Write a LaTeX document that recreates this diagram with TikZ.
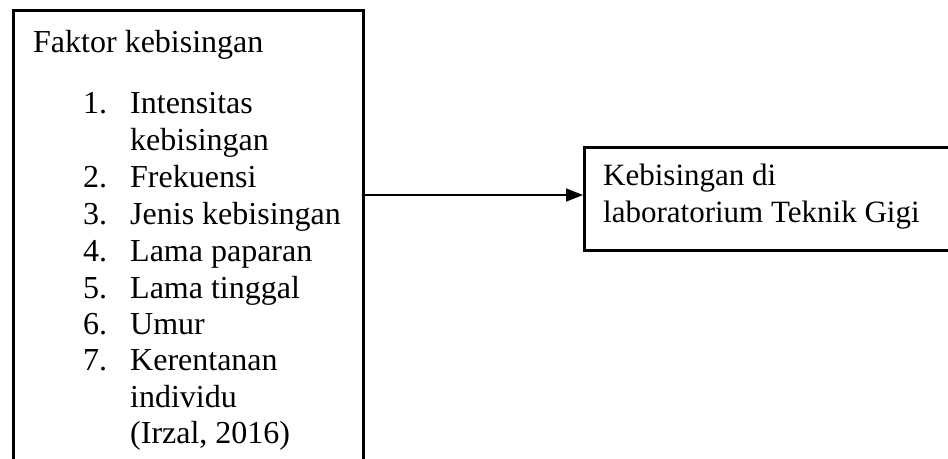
\documentclass[tikz,border=0pt]{standalone}
\usepackage{fontspec}
\setmainfont{Liberation Serif}
\usetikzlibrary{arrows.meta}
\begin{document}
\begin{tikzpicture}[x=1pt,y=-1pt,
  boxstyle/.style={draw=black, line width=2.5pt, fill=white, inner sep=0pt, anchor=north west},
  txt/.style={inner sep=0pt, anchor=base west, font=\fontsize{32}{37}\selectfont},
  rtxt/.style={inner sep=0pt, anchor=base west, font=\fontsize{31}{37}\selectfont},
  conn/.style={line width=1.5pt, -{Triangle[length=17pt,width=13pt]}}]
\useasboundingbox (0,0) rectangle (948,458);
\clip (0,0) rectangle (948,458);
\fill[white] (0,0) rectangle (948,458);
\node[boxstyle, minimum width=350pt, minimum height=470pt] (left) at (12,9) {};
\node[boxstyle, minimum width=400pt, minimum height=103pt] (right) at (583,146) {};
\coordinate (ay) at (0,195);
\draw[conn] (left.east |- ay) -- (right.west |- ay);
\node[txt] (t0) at (33,52) {Faktor kebisingan};
\node[txt] (n1) at (83,113) {1.};
\node[txt] (i1a) at (130,113) {Intensitas};
\node[txt] (i1b) at (130,150) {kebisingan};
\node[txt] (n2) at (83,187) {2.};
\node[txt] (i2) at (130,187) {Frekuensi};
\node[txt] (n3) at (83,224) {3.};
\node[txt] (i3) at (130,224) {Jenis kebisingan};
\node[txt] (n4) at (83,261) {4.};
\node[txt] (i4) at (130,261) {Lama paparan};
\node[txt] (n5) at (83,298) {5.};
\node[txt] (i5) at (130,298) {Lama tinggal};
\node[txt] (n6) at (83,334) {6.};
\node[txt] (i6) at (130,334) {Umur};
\node[txt] (n7) at (83,370) {7.};
\node[txt] (i7a) at (130,370) {Kerentanan};
\node[txt] (i7b) at (130,407) {individu};
\node[txt] (i7c) at (130,443) {(Irzal, 2016)};
\node[rtxt] (r1) at (603,185) {Kebisingan di};
\node[rtxt] (r2) at (603,222) {laboratorium Teknik Gigi};
\end{tikzpicture}
\end{document}
